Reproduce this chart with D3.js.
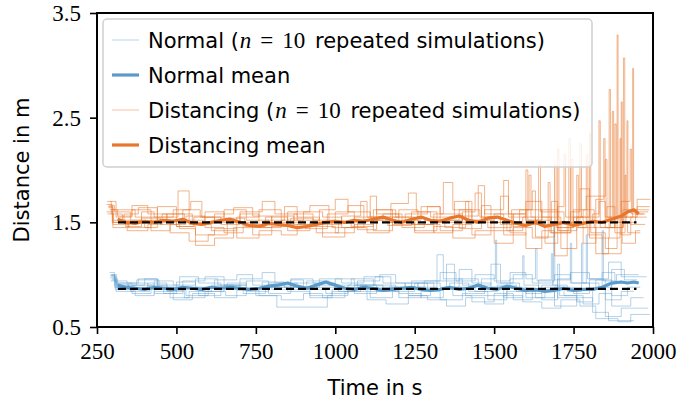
<!DOCTYPE html>
<html>
<head>
<meta charset="utf-8">
<script src="https://cdn.jsdelivr.net/npm/d3@7"></script>
<style>
  html, body { margin: 0; padding: 0; background: #fff; }
  svg { display: block; }
</style>
</head>
<body>
<div id="chart"></div>
<script>
// axis setup
const X_DOMAIN = [250, 2000]
const Y_DOMAIN = [0.5, 3.5]
const X_TICKS = [250, 500, 750, 1000, 1250, 1500, 1750, 2000]
const Y_TICKS = [0.5, 1.5, 2.5, 3.5]

// overall averages (dashed lines)
const NORMAL_AVG = 0.865
const DIST_AVG = 1.50
const AVG_SPAN = [316, 1948]

// individual simulations: [time s, distance m] step breakpoints
const NORMAL_SIMS = [
  [[293,1.00],[305,0.90],[350,0.86],[410,0.92],[470,0.85],[530,0.80],[600,0.88],[660,0.92],[720,0.84],[790,0.88],[860,0.95],[900,0.86],[970,0.82],[1040,0.90],[1100,0.84],[1170,0.88],[1230,0.80],[1300,0.86],[1360,0.92],[1420,0.84],[1480,0.80],[1540,0.88],[1600,0.82],[1650,0.90],[1700,0.78],[1760,0.86],[1820,0.95],[1870,0.80],[1920,0.88],[1960,0.88]],
  [[296,0.98],[310,0.88],[360,0.82],[420,0.86],[480,0.78],[540,0.84],[610,0.90],[680,0.86],[750,0.80],[816,0.69],[975,0.80],[1040,0.86],[1110,0.78],[1180,0.84],[1250,0.92],[1310,0.86],[1370,0.80],[1430,0.74],[1500,0.82],[1560,0.76],[1620,0.84],[1690,0.70],[1760,0.78],[1810,0.64],[1860,0.56],[1940,0.56]],
  [[290,1.02],[305,0.94],[345,0.90],[400,0.96],[440,0.88],[500,0.93],[560,0.88],[620,0.95],[690,1.00],[740,0.90],[800,0.86],[870,0.92],[940,0.88],[1000,0.96],[1060,0.90],[1125,0.98],[1175,0.88],[1240,0.94],[1320,1.19],[1340,0.96],[1400,0.90],[1460,0.96],[1504,1.33],[1508,0.92],[1560,1.00],[1620,0.92],[1687,1.46],[1691,0.95],[1740,1.02],[1800,0.96],[1860,1.12],[1900,0.98],[1980,0.98]],
  [[298,0.96],[315,0.86],[370,0.80],[430,0.84],[490,0.76],[550,0.82],[620,0.78],[690,0.85],[760,0.80],[830,0.76],[900,0.82],[960,0.78],[1030,0.84],[1100,0.76],[1160,0.72],[1230,0.80],[1290,0.76],[1350,0.70],[1410,0.78],[1470,0.72],[1530,0.80],[1590,0.74],[1650,0.68],[1710,0.76],[1770,0.70],[1820,0.58],[1890,0.55],[1930,0.62],[1990,0.62]],
  [[292,0.99],[308,0.92],[360,0.88],[430,0.94],[490,0.90],[560,0.96],[630,0.90],[700,0.87],[770,0.93],[840,0.88],[910,0.94],[980,0.90],[1050,0.96],[1120,0.90],[1190,0.86],[1260,0.92],[1330,0.88],[1390,0.96],[1450,0.90],[1490,1.10],[1520,0.92],[1580,0.86],[1640,0.95],[1680,1.20],[1684,0.90],[1730,0.84],[1775,1.30],[1779,0.92],[1830,0.88],[1870,1.05],[1910,0.95],[1950,0.95]],
  [[294,0.94],[310,0.84],[365,0.90],[430,0.82],[500,0.86],[570,0.80],[640,0.86],[710,0.82],[780,0.88],[850,0.84],[920,0.78],[990,0.84],[1060,0.90],[1130,0.84],[1200,0.78],[1270,0.84],[1330,0.76],[1400,0.82],[1470,0.88],[1530,0.78],[1590,0.84],[1650,0.76],[1700,1.10],[1706,0.80],[1760,0.74],[1810,0.86],[1850,0.60],[1900,0.68],[1985,0.68]],
  [[297,1.00],[312,0.92],[380,0.96],[440,0.90],[510,0.98],[570,0.92],[640,0.88],[700,0.96],[770,1.02],[810,0.92],[880,0.88],[950,0.96],[1020,0.92],[1090,0.98],[1150,0.92],[1220,0.88],[1280,0.94],[1330,1.02],[1380,0.94],[1440,1.00],[1500,0.94],[1550,1.02],[1600,0.96],[1630,1.25],[1635,0.94],[1690,1.00],[1740,0.92],[1790,1.38],[1794,0.96],[1840,1.02],[1880,0.92],[1945,0.92]],
  [[291,0.97],[306,0.88],[355,0.84],[415,0.90],[470,0.84],[525,0.78],[590,0.84],[655,0.80],[720,0.86],[790,0.82],[860,0.88],[920,0.80],[990,0.86],[1060,0.82],[1130,0.88],[1200,0.82],[1270,0.78],[1340,0.86],[1410,0.80],[1480,0.76],[1540,0.84],[1600,0.78],[1660,0.88],[1720,0.80],[1780,0.72],[1830,0.82],[1870,0.70],[1930,0.78],[1970,0.78]],
  [[295,0.95],[312,0.90],[375,0.95],[445,0.88],[520,0.94],[590,0.98],[650,0.90],[720,0.94],[790,0.90],[860,0.96],[930,0.92],[1000,0.88],[1070,0.94],[1140,1.00],[1190,0.92],[1260,0.88],[1320,0.94],[1390,1.05],[1430,0.92],[1490,0.88],[1550,0.96],[1590,1.18],[1594,0.90],[1640,0.86],[1700,0.96],[1740,1.30],[1744,0.92],[1800,0.86],[1840,1.42],[1844,0.94],[1885,1.00],[1955,1.00]],
  [[293,0.99],[307,0.86],[350,0.92],[410,0.86],[460,0.82],[520,0.88],[580,0.84],[650,0.90],[720,0.86],[790,0.92],[860,0.86],[940,0.90],[1010,0.84],[1080,0.90],[1150,0.86],[1220,0.92],[1290,0.86],[1350,1.10],[1375,0.88],[1440,0.84],[1510,0.90],[1570,0.84],[1630,0.78],[1690,0.88],[1750,0.82],[1800,0.95],[1850,0.76],[1900,0.84],[1940,0.84]],
]

const DIST_SIMS = [
  [[282,1.70],[295,1.58],[330,1.52],[390,1.60],[430,1.55],[505,1.80],[540,1.48],[610,1.42],[690,1.55],[760,1.62],[830,1.50],[905,1.44],[975,1.58],[1040,1.66],[1090,1.52],[1165,1.47],[1240,1.60],[1300,1.55],[1375,1.70],[1420,1.52],[1480,1.45],[1555,1.62],[1610,1.95],[1616,1.55],[1680,1.40],[1742,2.10],[1748,1.50],[1800,1.35],[1862,2.77],[1866,1.45],[1905,1.62],[1988,1.62]],
  [[285,1.65],[300,1.48],[350,1.45],[420,1.52],[480,1.40],[540,1.32],[600,1.38],[660,1.50],[740,1.45],[800,1.56],[870,1.48],[940,1.40],[1010,1.50],[1070,1.43],[1130,1.55],[1200,1.62],[1260,1.48],[1330,1.42],[1400,1.56],[1450,1.85],[1470,1.58],[1530,1.38],[1600,1.48],[1660,1.30],[1700,2.20],[1704,1.42],[1760,1.55],[1800,2.35],[1804,1.40],[1850,1.25],[1887,3.29],[1890,1.50],[1930,1.48],[1975,1.48]],
  [[290,1.62],[310,1.55],[360,1.66],[410,1.58],[470,1.52],[520,1.62],[575,1.55],[640,1.48],[700,1.60],[770,1.70],[810,1.58],[880,1.52],[950,1.62],[1000,1.72],[1040,1.60],[1110,1.55],[1175,1.68],[1230,1.78],[1255,1.60],[1320,1.52],[1390,1.62],[1455,1.55],[1520,1.75],[1545,1.58],[1600,1.52],[1640,2.05],[1646,1.60],[1720,1.48],[1770,2.25],[1775,1.55],[1830,1.70],[1850,1.45],[1907,3.07],[1911,1.55],[1950,1.65],[1990,1.65]],
  [[280,1.60],[300,1.50],[345,1.42],[410,1.48],[455,1.58],[500,1.46],[560,1.38],[620,1.44],[690,1.35],[760,1.42],[830,1.38],[880,1.48],[960,1.36],[1030,1.45],[1100,1.40],[1170,1.50],[1250,1.40],[1310,1.46],[1370,1.35],[1440,1.42],[1500,1.30],[1560,1.45],[1620,1.35],[1670,1.88],[1676,1.40],[1710,1.25],[1760,1.45],[1790,2.15],[1795,1.38],[1840,1.20],[1900,2.65],[1903,1.30],[1945,1.42],[1960,1.42]],
  [[288,1.66],[305,1.60],[355,1.52],[400,1.45],[440,1.55],[490,1.62],[545,1.70],[580,1.55],[650,1.62],[720,1.52],[790,1.48],[850,1.60],[920,1.66],[980,1.50],[1050,1.46],[1120,1.62],[1190,1.55],[1250,1.48],[1310,1.58],[1340,1.88],[1370,1.62],[1430,1.50],[1500,1.58],[1560,1.46],[1600,2.00],[1606,1.52],[1650,1.62],[1700,1.42],[1735,2.30],[1740,1.50],[1810,1.58],[1830,2.47],[1834,1.45],[1880,1.55],[1936,2.97],[1939,1.60],[1985,1.60]],
  [[283,1.58],[300,1.45],[350,1.50],[420,1.42],[480,1.48],[530,1.56],[590,1.45],[650,1.40],[710,1.48],[780,1.55],[850,1.42],[920,1.50],[990,1.45],[1060,1.55],[1130,1.62],[1180,1.48],[1250,1.42],[1320,1.50],[1390,1.44],[1460,1.66],[1490,1.50],[1540,1.42],[1590,1.55],[1630,1.36],[1690,2.05],[1695,1.45],[1750,1.55],[1780,1.30],[1820,1.72],[1845,2.30],[1849,1.55],[1872,2.56],[1876,1.50],[1920,1.40],[1960,1.40]],
  [[292,1.70],[310,1.62],[370,1.55],[440,1.65],[500,1.58],[550,1.50],[620,1.58],[680,1.64],[740,1.56],[800,1.48],[870,1.58],[930,1.52],[1000,1.60],[1060,1.52],[1110,1.75],[1130,1.58],[1200,1.52],[1270,1.65],[1330,1.58],[1400,1.50],[1470,1.62],[1530,1.90],[1545,1.55],[1600,1.62],[1650,1.48],[1700,1.65],[1720,2.15],[1725,1.55],[1780,1.62],[1815,1.45],[1880,2.44],[1884,1.55],[1918,2.47],[1921,1.60],[1950,1.72],[1992,1.72]],
  [[286,1.64],[300,1.52],[340,1.46],[390,1.54],[450,1.48],[510,1.44],[560,1.28],[620,1.35],[680,1.45],[740,1.38],[800,1.46],[860,1.54],[930,1.46],[1000,1.40],[1060,1.48],[1120,1.42],[1180,1.55],[1240,1.48],[1310,1.40],[1370,1.48],[1430,1.38],[1490,1.50],[1550,1.40],[1600,1.25],[1650,1.42],[1690,1.18],[1730,1.50],[1760,1.95],[1765,1.45],[1820,1.20],[1860,1.35],[1896,2.30],[1899,1.38],[1930,1.55],[1980,1.55]],
  [[295,1.62],[315,1.56],[360,1.62],[420,1.50],[470,1.58],[525,1.52],[590,1.60],[650,1.54],[715,1.46],[780,1.52],[840,1.65],[880,1.55],[950,1.48],[1020,1.56],[1080,1.70],[1100,1.55],[1160,1.50],[1220,1.58],[1290,1.65],[1330,1.52],[1400,1.60],[1440,1.78],[1460,1.55],[1520,1.48],[1580,1.62],[1620,1.80],[1630,1.52],[1680,1.70],[1700,1.45],[1750,1.62],[1790,1.75],[1850,2.10],[1855,1.55],[1900,1.70],[1928,2.20],[1932,1.58],[1970,1.58]],
  [[280,1.67],[298,1.50],[335,1.58],[380,1.64],[440,1.52],[500,1.46],[555,1.55],[620,1.50],[700,1.58],[760,1.45],[830,1.52],[900,1.60],[960,1.55],[1020,1.45],[1090,1.52],[1150,1.58],[1210,1.45],[1280,1.52],[1345,1.45],[1410,1.70],[1430,1.52],[1500,1.42],[1560,1.58],[1600,1.70],[1650,1.55],[1710,1.40],[1740,1.60],[1770,1.82],[1800,1.50],[1855,1.65],[1880,1.40],[1912,1.95],[1915,1.50],[1945,1.58],[1975,1.58]],
]

// mean over the 10 runs
const MEAN_TIME = [315,340,370,400,430,460,490,520,550,580,610,640,670,700,730,760,790,820,850,880,910,940,970,1000,1030,1060,1090,1120,1150,1180,1210,1240,1270,1300,1330,1360,1390,1420,1450,1480,1510,1540,1570,1600,1630,1660,1690,1720,1750,1780,1810,1840,1870,1900,1920,1940,1955]
const NORMAL_MEAN = [0.90,0.88,0.87,0.86,0.88,0.87,0.86,0.88,0.87,0.86,0.88,0.87,0.88,0.87,0.86,0.87,0.89,0.90,0.92,0.89,0.87,0.90,0.93,0.90,0.87,0.86,0.88,0.87,0.85,0.86,0.87,0.88,0.86,0.85,0.86,0.88,0.86,0.87,0.90,0.87,0.86,0.89,0.87,0.85,0.86,0.84,0.85,0.87,0.85,0.86,0.86,0.88,0.92,0.93,0.92,0.93,0.92]
const DIST_MEAN = [1.53,1.50,1.49,1.51,1.50,1.52,1.51,1.53,1.49,1.48,1.50,1.52,1.53,1.50,1.47,1.46,1.49,1.48,1.47,1.45,1.46,1.48,1.50,1.51,1.50,1.52,1.51,1.53,1.55,1.52,1.50,1.53,1.55,1.52,1.51,1.54,1.56,1.52,1.50,1.54,1.55,1.52,1.49,1.47,1.50,1.46,1.48,1.50,1.47,1.49,1.51,1.50,1.53,1.56,1.60,1.62,1.58]

const BLUE = '#5b9bcb'
const ORANGE = '#e8762c'
const LEGEND = [
  { type: 'sim',  color: BLUE,   pre: 'Normal (', post: ' repeated simulations)' },
  { type: 'mean', color: BLUE,   text: 'Normal mean' },
  { type: 'sim',  color: ORANGE, pre: 'Distancing (', post: ' repeated simulations)' },
  { type: 'mean', color: ORANGE, text: 'Distancing mean' },
]

const W = 677, H = 401
const MARGIN = { top: 13, right: 24, bottom: 74, left: 97 }
const innerW = W - MARGIN.left - MARGIN.right
const innerH = H - MARGIN.top - MARGIN.bottom
const SANS = "'DejaVu Sans', 'Liberation Sans', sans-serif"
const SERIF = "'Liberation Serif', 'DejaVu Serif', serif"

const svg = d3.select('#chart').append('svg')
  .attr('width', W).attr('height', H)
  .attr('viewBox', `0 0 ${W} ${H}`)

svg.append('defs').append('clipPath').attr('id', 'plot-clip')
  .append('rect').attr('width', innerW).attr('height', innerH)

const g = svg.append('g').attr('transform', `translate(${MARGIN.left},${MARGIN.top})`)

const x = d3.scaleLinear().domain(X_DOMAIN).range([0, innerW])
const y = d3.scaleLinear().domain(Y_DOMAIN).range([innerH, 0])

const stepLine = d3.line()
  .x(d => x(d[0]))
  .y(d => y(d[1]))
  .curve(d3.curveStepAfter)

const meanLine = d3.line()
  .x((_, i) => x(MEAN_TIME[i]))
  .y(d => y(d))

const plot = g.append('g').attr('clip-path', 'url(#plot-clip)')

plot.selectAll('path.normal-sim').data(NORMAL_SIMS).join('path')
  .attr('class', 'normal-sim')
  .attr('d', stepLine)
  .attr('fill', 'none').attr('stroke', BLUE)
  .attr('stroke-width', 1).attr('stroke-opacity', 0.45)

plot.selectAll('path.dist-sim').data(DIST_SIMS).join('path')
  .attr('class', 'dist-sim')
  .attr('d', stepLine)
  .attr('fill', 'none').attr('stroke', ORANGE)
  .attr('stroke-width', 1).attr('stroke-opacity', 0.55)

plot.selectAll('path.mean').data([[NORMAL_MEAN, BLUE], [DIST_MEAN, ORANGE]]).join('path')
  .attr('class', 'mean')
  .attr('d', d => meanLine(d[0]))
  .attr('fill', 'none').attr('stroke', d => d[1])
  .attr('stroke-width', 3.2).attr('stroke-linejoin', 'round')

plot.selectAll('line.avg').data([NORMAL_AVG, DIST_AVG]).join('line')
  .attr('class', 'avg')
  .attr('x1', x(AVG_SPAN[0])).attr('x2', x(AVG_SPAN[1]))
  .attr('y1', d => y(d)).attr('y2', d => y(d))
  .attr('stroke', '#000').attr('stroke-width', 2.2)
  .attr('stroke-dasharray', '8,4')

// axes
const styleAxis = sel => {
  sel.select('.domain').remove()
  sel.selectAll('line').attr('stroke', '#000').attr('stroke-width', 1.6)
  sel.selectAll('text').attr('fill', '#000')
    .attr('font-family', SERIF).attr('font-size', 23)
}

g.append('g')
  .attr('transform', `translate(0,${innerH})`)
  .call(d3.axisBottom(x).tickValues(X_TICKS).tickSize(7).tickPadding(9).tickFormat(d3.format('d')))
  .call(styleAxis)

g.append('g')
  .call(d3.axisLeft(y).tickValues(Y_TICKS).tickSize(7).tickPadding(9).tickFormat(d3.format('.1f')))
  .call(styleAxis)

g.append('rect')
  .attr('width', innerW).attr('height', innerH)
  .attr('fill', 'none').attr('stroke', '#000').attr('stroke-width', 2)

svg.append('text')
  .attr('x', MARGIN.left + innerW / 2).attr('y', 395)
  .attr('text-anchor', 'middle')
  .attr('font-family', SANS).attr('font-size', 21)
  .text('Time in s')

svg.append('text')
  .attr('transform', `translate(29,${MARGIN.top + innerH / 2}) rotate(-90)`)
  .attr('text-anchor', 'middle')
  .attr('font-family', SANS).attr('font-size', 21)
  .text('Distance in m')

// legend
const lg = svg.append('g').attr('transform', 'translate(103,19)')
lg.append('rect')
  .attr('width', 489).attr('height', 148).attr('rx', 4)
  .attr('fill', '#fff').attr('fill-opacity', 0.8)
  .attr('stroke', '#d0d0d0').attr('stroke-width', 1.5)

const rows = lg.selectAll('g.row').data(LEGEND).join('g')
  .attr('class', 'row')
  .attr('transform', (_, i) => `translate(0,${21 + i * 35})`)

rows.append('line')
  .attr('x1', 9).attr('x2', 36)
  .attr('stroke', d => d.color)
  .attr('stroke-width', d => d.type === 'mean' ? 3.2 : 1)
  .attr('stroke-opacity', d => d.type === 'mean' ? 1 : 0.45)

const labels = rows.append('text')
  .attr('x', 45).attr('y', 7.5)
  .attr('font-family', SANS).attr('font-size', 21)
  .attr('fill', '#000')

labels.each(function (d) {
  const t = d3.select(this)
  if (d.type === 'mean') { t.text(d.text); return }
  t.append('tspan').text(d.pre)
  t.append('tspan').attr('font-family', SERIF).attr('font-size', 23).attr('font-style', 'italic').attr('dx', 1).text('n')
  t.append('tspan').attr('font-family', SERIF).attr('font-size', 23).attr('dx', 9).text('=')
  t.append('tspan').attr('font-family', SERIF).attr('font-size', 23).attr('dx', 9).text('10')
  t.append('tspan').attr('dx', 3).text(d.post)
})
</script>
</body>
</html>
